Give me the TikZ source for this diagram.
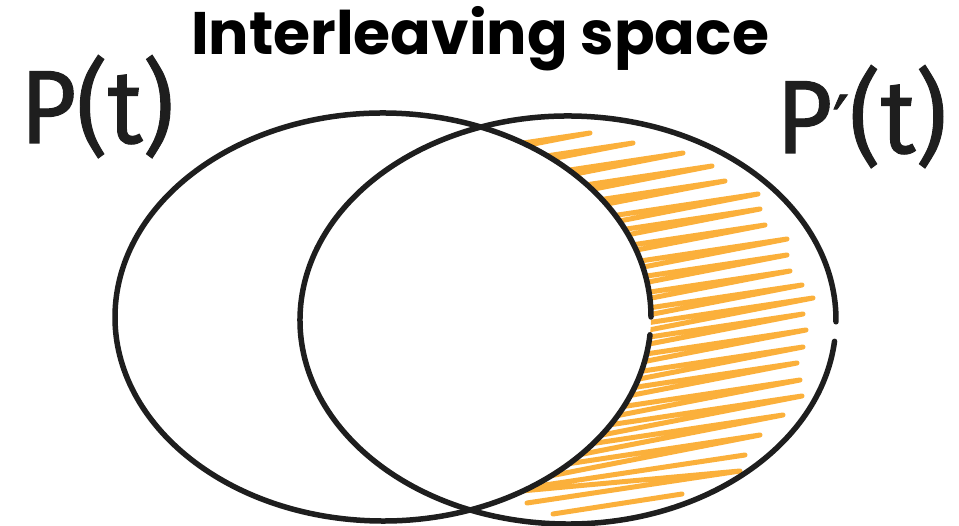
\documentclass[tikz,border=0pt]{standalone}
\usepackage{fontspec}
\newfontfamily\titlefont{Poppins}
\newfontfamily\handfont[FakeBold=1]{Fira Sans}
\newfontfamily\primefont[FakeBold=1]{DejaVu Sans}
\definecolor{ink}{HTML}{1E1E1E}
\definecolor{hatchcol}{HTML}{FBB03B}
\tikzset{
  outline/.style={draw=ink, line width=5.5pt, line cap=round},
  hatchline/.style={draw=hatchcol, line width=5pt, line cap=round, line join=round},
  handlabel/.style={text=ink, inner sep=0pt, font=\handfont\fontsize{104}{104}\selectfont},
  titlestyle/.style={text=black, inner sep=0pt, font=\titlefont\bfseries\fontsize{60}{60}\selectfont}
}
\begin{document}
\begin{tikzpicture}[x=1pt,y=-1pt]
\useasboundingbox (0,0) rectangle (959,526);
\fill[white] (0,0) rectangle (959,526);
\coordinate (cL) at (383,317);
\coordinate (cR) at (568,320);
% hatching of P'(t) minus P(t)
\begin{scope}
  \clip (cR) ellipse [x radius=268, y radius=204];
  \begin{scope}[even odd rule]
  \clip (-10,-10) rectangle (970,540) (cL) ellipse [x radius=268, y radius=204];
  \draw[hatchline] (480,149.5)
    \foreach \xt/\yt in {590/133, 633/143, 683/153, 712/166, 725/181, 758/194,
        760/209, 765/225, 787/239, 787/255, 790/271, 802/285, 813/298, 803/314,
        806/330, 803/347, 797/363, 800/380, 802/396, 783/415, 760/435}
      { -- (480,{\yt+0.15*(\xt-480)}) -- (\xt,\yt) -- (480,{\yt+0.195*(\xt-480)}) }
    -- (480,494.75) -- (745,455) -- (480,494.75) -- (740,471) -- (527,503);
  \draw[hatchline] (553,514) -- (682,494);
  \end{scope}
\end{scope}
% the two sets
\draw[outline] (649.98,334.78) arc [start angle=5, end angle=360, x radius=268, y radius=204];
\draw[outline] (834.53,341.32) arc [start angle=6, end angle=360.5, x radius=268, y radius=204];
% texts
\node[titlestyle, anchor=base] (title) at (480,55) {Interleaving space};
\node[handlabel, anchor=base west] (pl) at (20,143) {\scalebox{0.93}[1]{P(t)}};
\node[handlabel, anchor=base west] (pr) at (776,153) {\scalebox{0.93}[1]{P{\primefont\fontsize{80}{80}\selectfont ′}(t)}};
\end{tikzpicture}
\end{document}
